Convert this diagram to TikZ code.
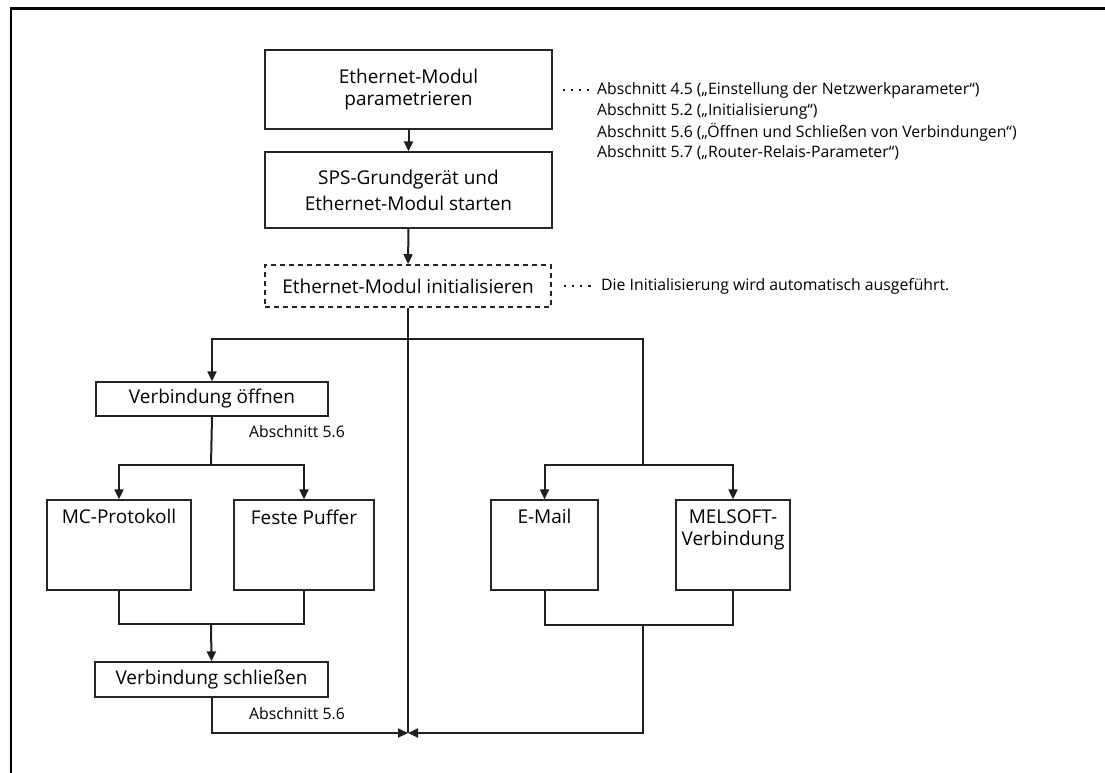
\documentclass[tikz,border=0pt]{standalone}
\usepackage{fontspec}
\setmainfont{Open Sans}
\usetikzlibrary{arrows.meta,calc}
\begin{document}
\begin{tikzpicture}[x=1pt,y=-1pt,
  box/.style={draw=black!85, line width=1.3pt, inner sep=0pt, align=center,
    font=\fontsize{19}{22}\selectfont},
  tallbox/.style={draw=black!85, line width=1.3pt, inner sep=0pt,
    minimum height=90pt},
  toplabel/.style={anchor=north, inner sep=0pt, yshift=-10pt, align=center,
    font=\fontsize{19}{22}\selectfont},
  conn/.style={line width=2pt, draw=black!88},
  arr/.style={conn, -{Triangle[length=10pt,width=9pt]}},
  ann/.style={anchor=west, inner sep=0pt, font=\fontsize{15.8}{18}\selectfont},
  leader/.style={line width=2.2pt, dash pattern=on 2.2pt off 6pt, draw=black!88}
]
\useasboundingbox (0,0) rectangle (1105,773);
% frame
\draw[line width=2.6pt] (11,773) -- (11,8.5) -- (1105,8.5);

% main boxes
\node[box, minimum width=287pt, minimum height=79pt] (p1) at (408.5,89.5)
  {Ethernet-Modul\\parametrieren};
\node[box, minimum width=287pt, minimum height=76pt, font=\fontsize{19}{26}\selectfont] (p2) at (408.5,190)
  {SPS-Grundgerät und\\Ethernet-Modul starten};
\node[box, dashed, dash pattern=on 5pt off 4pt, line width=1.6pt, minimum width=286pt, minimum height=42pt] (p3) at (408,286)
  {Ethernet-Modul initialisieren};

% annotations
\node[ann] (a1) at (597,90) {Abschnitt 4.5 („Einstellung der Netzwerkparameter“)};
\node[ann] (a2) at (597,111) {Abschnitt 5.2 („Initialisierung“)};
\node[ann] (a3) at (597,132) {Abschnitt 5.6 („Öffnen und Schließen von Verbindungen“)};
\node[ann] (a4) at (597,153) {Abschnitt 5.7 („Router-Relais-Parameter“)};
\node[ann] (a5) at (601,286) {Die Initialisierung wird automatisch ausgeführt.};
\draw[leader] ($(p1.east|-a1.west)+(10,0)$) -- ($(a1.west)+(-6,0)$);
\draw[leader] ($(p3.east)+(12,0)$) -- ($(a5.west)+(-7,0)$);

% left branch
\node[box, minimum width=232pt, minimum height=34pt] (vo) at (212,399) {Verbindung öffnen};
\node[ann] (l1) at (249,432) {Abschnitt 5.6};
\node[tallbox, minimum width=144pt, label={[toplabel]north:MC-Protokoll}] (mc) at (119,545) {};
\node[tallbox, minimum width=140pt, label={[toplabel]north:Feste Puffer}] (fp) at (304,545) {};
\node[box, minimum width=233pt, minimum height=35pt] (vs) at (211.5,679.5) {Verbindung schließen};
\node[ann] (l2) at (249,714) {Abschnitt 5.6};

% right branch
\node[tallbox, minimum width=107pt, label={[toplabel]north:E-Mail}] (em) at (544.5,545) {};
\node[tallbox, minimum width=114pt, label={[toplabel]north:MELSOFT-\\Verbindung}] (ms) at (733,545) {};

% coordinates
\coordinate (B) at (408,339);
\coordinate (J) at (408,733);
\coordinate (LS) at (211,465);
\coordinate (RS) at (643,465);
\coordinate (LM) at (211,624);
\coordinate (RM) at (643,625);

% connectors
\draw[arr] (p1.south) -- (p2.north);
\draw[arr] (p2.south) -- (p3.north);
\draw[conn] (p3.south) -- (J);
\draw[arr] (B) -| (vo.north);
\draw[conn] (B) -| (RS);
\draw[conn] (vo.south) -- (LS);
\draw[arr] (LS) -| (mc.north);
\draw[arr] (LS) -| (fp.north);
\draw[arr] (RS) -| (em.north);
\draw[arr] (RS) -| (ms.north);
\draw[conn] (mc.south) |- (LM) -| (fp.south);
\draw[arr] (LM) -- (vs.north);
\draw[conn] (em.south) |- (RM) -| (ms.south);
\draw[arr] (vs.south) |- (J);
\draw[arr] (RM) |- (J);
\end{tikzpicture}
\end{document}
